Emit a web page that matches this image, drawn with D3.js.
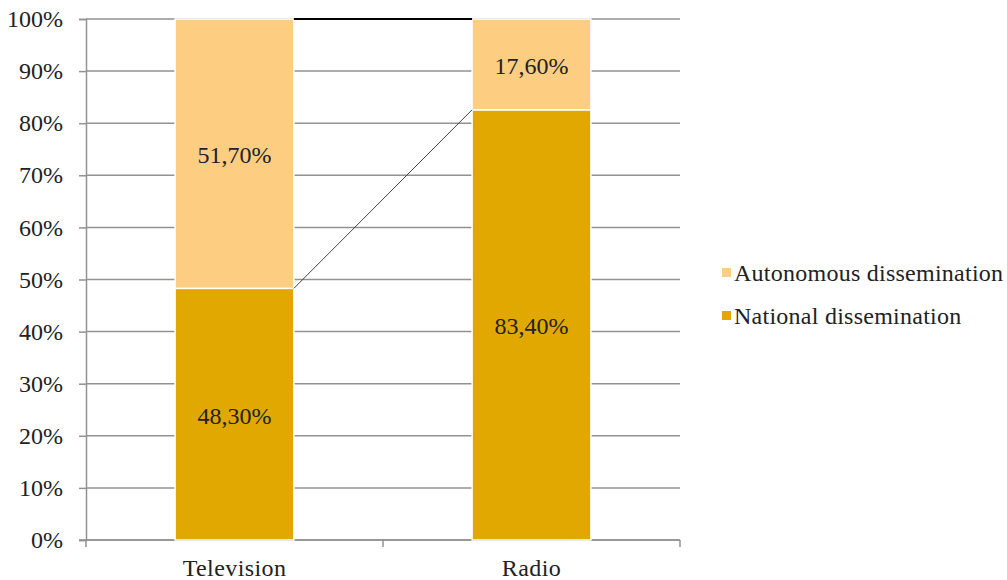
<!DOCTYPE html>
<html>
<head>
<meta charset="utf-8">
<script src="https://cdn.jsdelivr.net/npm/d3@7"></script>
<style>
  body { margin: 0; background: #fff; }
  svg text { font-family: 'Liberation Serif', Tinos, 'Times New Roman', serif; }
</style>
</head>
<body>
<div id="chart-container"></div>
<script>
var categories = ["Television", "Radio"];
var seriesKeys = ["national", "autonomous"];
var seriesNames = ["National dissemination", "Autonomous dissemination"];
var nationalValues = [48.3, 83.4];
var autonomousValues = [51.7, 17.6];
var yTicks = [0, 0.1, 0.2, 0.3, 0.4, 0.5, 0.6, 0.7, 0.8, 0.9, 1];
var colors = { national: "#e0a800", autonomous: "#fdcd82" };

var svgWidth = 1007;
var svgHeight = 580;
var margin = { top: 19, right: 327, bottom: 40, left: 86 };
var width = svgWidth - margin.left - margin.right;
var height = svgHeight - margin.top - margin.bottom;

var rows = categories.map(function (c, i) {
    return { category: c, national: nationalValues[i], autonomous: autonomousValues[i] };
});

// 100% stacked, like the original sheet (83,4 + 17,6 gets scaled to the full bar)
var stack = d3.stack().keys(seriesKeys).offset(d3.stackOffsetExpand);
var stacked = stack(rows);

var root = d3.select("#chart-container").append("svg")
    .attr("width", svgWidth)
    .attr("height", svgHeight)
    .attr("font-family", "Liberation Serif");
var svg = root.append("g")
    .attr("transform", "translate(" + margin.left + "," + margin.top + ")");

var xScale = d3.scaleBand().domain(categories).range([0, width])
    .paddingInner(0.6).paddingOuter(0.3);
var yScale = d3.scaleLinear().domain([0, 1]).range([height, 0]);

// gridlines
svg.selectAll(".grid")
    .data(yTicks)
    .enter().append("line")
    .attr("x1", 0)
    .attr("x2", width)
    .attr("y1", d => yScale(d))
    .attr("y2", d => yScale(d))
    .style("stroke", "#929292")
    .style("stroke-width", 1.5);

// y axis
var yAxis = svg.append("g")
    .call(d3.axisLeft(yScale).tickValues(yTicks).tickFormat(d3.format(".0%")).tickSize(7).tickPadding(16));
yAxis.attr("font-family", "Liberation Serif").attr("font-size", 24);
yAxis.select(".domain").style("stroke", "#929292").style("stroke-width", 1.5);
yAxis.selectAll(".tick line").style("stroke", "#929292").style("stroke-width", 1.5);
yAxis.selectAll("text")
    .style("font-size", "24px")
    .attr("fill", "#222");

// x axis
var step = xScale.step();
var xAxis = svg.append("g").attr("transform", "translate(0," + height + ")");
xAxis.append("line")
    .attr("x1", -7).attr("x2", width)
    .style("stroke", "#929292").style("stroke-width", 1.5);
xAxis.selectAll(".xtick")
    .data(d3.range(categories.length + 1))
    .enter().append("line")
    .attr("x1", d => d * step).attr("x2", d => d * step)
    .attr("y1", 0).attr("y2", 7)
    .style("stroke", "#929292").style("stroke-width", 1.5);
xAxis.selectAll(".xlabel")
    .data(categories)
    .enter().append("text")
    .attr("x", d => xScale(d) + xScale.bandwidth() / 2)
    .attr("y", 36)
    .style("text-anchor", "middle")
    .style("font-size", "24px")
    .style("letter-spacing", "0.4px")
    .style("fill", "#222")
    .text(d => d);

// bars
var layers = svg.selectAll(".layer")
    .data(stacked)
    .enter().append("g")
    .style("fill", d => colors[d.key]);

layers.selectAll("rect")
    .data(d => d)
    .enter().append("rect")
    .attr("x", d => xScale(d.data.category))
    .attr("width", xScale.bandwidth())
    .attr("y", d => yScale(d[1]))
    .attr("height", d => yScale(d[0]) - yScale(d[1]))
    .style("stroke", "#fff")
    .style("stroke-width", 1.5);

// series lines between the bars
stacked.forEach(function (layer) {
    var a = layer[0], b = layer[1];
    svg.append("line")
        .attr("x1", xScale(a.data.category) + xScale.bandwidth())
        .attr("y1", yScale(a[1]))
        .attr("x2", xScale(b.data.category))
        .attr("y2", yScale(b[1]))
        .style("stroke", layer.key === "autonomous" ? "#000" : "#444")
        .style("stroke-width", layer.key === "autonomous" ? 2 : 1);
});

// value labels
layers.selectAll(".val")
    .data(d => d.map(function (p) { p.key = d.key; return p; }))
    .enter().append("text")
    .attr("x", d => xScale(d.data.category) + xScale.bandwidth() / 2)
    .attr("y", d => yScale((d[0] + d[1]) / 2))
    .attr("dy", "0.4em")
    .style("text-anchor", "middle")
    .style("font-size", "24px")
    .style("fill", "#222")
    .text(d => d.data[d.key].toFixed(2).replace(".", ",") + "%");

// legend
var legend = svg.append("g")
    .attr("transform", "translate(" + (width + 42) + ",0)");
var legendItems = seriesKeys.slice().reverse();
legendItems.forEach(function (key, i) {
    var yy = 254 + i * 43;
    legend.append("rect")
        .attr("x", 0).attr("y", yy - 5)
        .attr("width", 9).attr("height", 9)
        .style("fill", colors[key]);
    legend.append("text")
        .attr("x", 12).attr("y", yy)
        .attr("dy", "0.35em")
        .style("font-size", "24px")
        .style("letter-spacing", "0.25px")
        .style("fill", "#222")
        .text(seriesNames[seriesKeys.indexOf(key)]);
});
</script>
</body>
</html>
